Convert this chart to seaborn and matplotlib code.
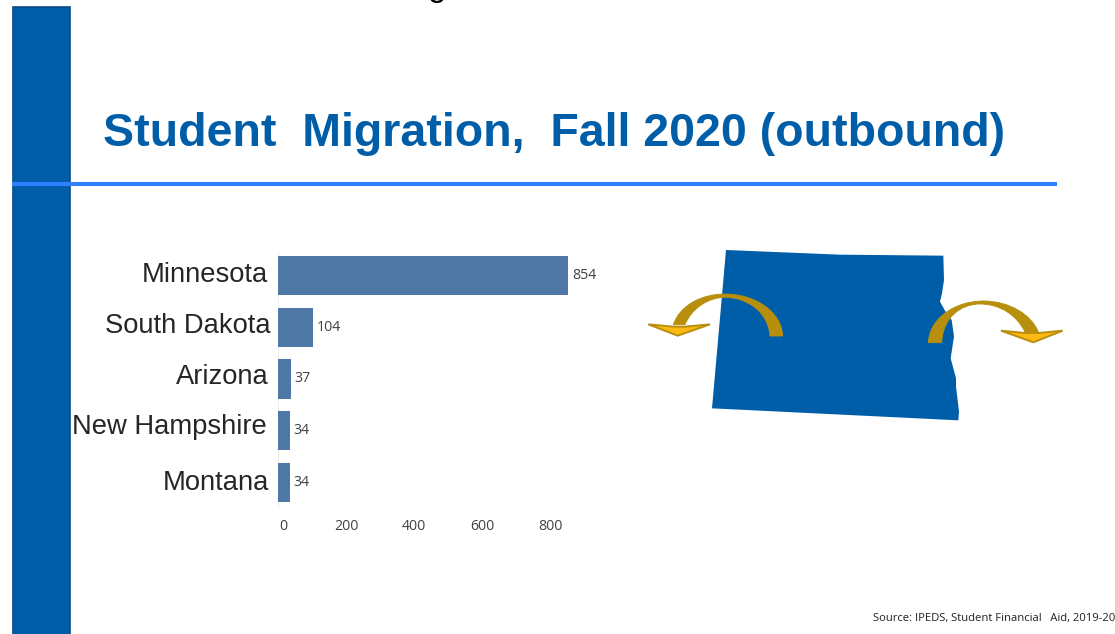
import pandas as pd
import matplotlib
matplotlib.use('Agg')
import matplotlib.pyplot as plt
import matplotlib.transforms as mtrans
from matplotlib.patches import PathPatch, Polygon, Rectangle
from matplotlib.path import Path
import seaborn as sns

# Chart values
states = ['Minnesota', 'South Dakota', 'Arizona', 'New Hampshire', 'Montana']
students = [854, 104, 37, 34, 34]
x_ticks = [0, 200, 400, 600, 800]

title = 'Student  Migration,  Fall 2020 (outbound)'
source = 'Source: IPEDS, Student Financial   Aid, 2019-20'

W, H = 1115, 634
BLUE = '#005DA8'
GOLD_DARK = '#B88F0C'
GOLD = '#FDB913'

sns.set_theme(style='white')
plt.rcParams['font.family'] = ['Liberation Sans', 'DejaVu Sans']

fig = plt.figure(figsize=(W / 100, H / 100), dpi=100, facecolor='white')

# Background layer in pixel coordinates, for the slide furniture
bg = fig.add_axes([0, 0, 1, 1])
bg.set_xlim(0, W)
bg.set_ylim(H, 0)
bg.axis('off')

bg.add_patch(Rectangle((12.5, 6.5), 57.5, 640, facecolor=BLUE, edgecolor='#0B4C86', lw=1.2))
bg.plot([12, 1057], [183.5, 183.5], color='#2F82FF', lw=2.9, solid_capstyle='butt')
bg.text(103, 146, title, color=BLUE, fontsize=33.45, fontweight='bold', va='baseline')
bg.text(428, -4, 'g', color='black', fontsize=24, va='baseline')
bg.text(1115, 619, source, color='#222222', fontsize=8.15, family='Open Sans', ha='right', va='center')


def zoomed(points):
    return [(640 + x / 3, 240 + y / 3) for x, y in points]


state_outline = [(258, 30), (600, 44), (910, 47), (912, 120), (906, 160), (900, 185), (915, 212),
                 (935, 240), (942, 290), (932, 355), (948, 415), (948, 440), (957, 515),
                 (955, 541), (216, 505)]
bg.add_patch(Polygon(zoomed(state_outline), closed=True, facecolor=BLUE, edgecolor='none'))


def curved_arrow(outer, inner, head):
    codes = [Path.MOVETO, Path.CURVE4, Path.CURVE4, Path.CURVE4, Path.CURVE4, Path.CURVE4, Path.CURVE4,
             Path.LINETO, Path.CURVE4, Path.CURVE4, Path.CURVE4, Path.CURVE4, Path.CURVE4, Path.CURVE4,
             Path.CLOSEPOLY]
    verts = zoomed(outer + inner + [outer[0]])
    bg.add_patch(PathPatch(Path(verts, codes), facecolor=GOLD_DARK, edgecolor=GOLD_DARK, lw=0.6))
    bg.add_patch(Polygon(zoomed(head), closed=True, facecolor=GOLD, edgecolor=GOLD_DARK, lw=1.4))


curved_arrow(
    [(428, 288), (425, 215), (345, 162), (255, 162), (185, 162), (120, 195), (100, 254)],
    [(135, 254), (155, 205), (205, 172), (255, 172), (320, 172), (385, 215), (390, 288)],
    [(25, 253), (100, 260), (135, 260), (210, 253), (113, 287)],
)
curved_arrow(
    [(865, 308), (868, 235), (945, 183), (1030, 183), (1110, 183), (1175, 225), (1195, 276)],
    [(1155, 276), (1130, 225), (1080, 192), (1020, 192), (960, 192), (908, 235), (905, 308)],
    [(1083, 272), (1155, 279), (1195, 279), (1268, 272), (1180, 307)],
)

# Bar chart
data = pd.DataFrame({'State': states, 'Students': students})
ax = fig.add_axes([278 / W, 1 - 508 / H, 322 / W, 258 / H])
ax.patch.set_alpha(0)
sns.barplot(data=data, x='Students', y='State', color='#4F78A6', saturation=1, width=0.76,
            linewidth=0, ax=ax)
ax.set_xlim(0, 322 / 0.34)
ax.set_xlabel('')
ax.set_ylabel('')
ax.set_xticks(x_ticks)
sns.despine(ax=ax, left=False, bottom=True)
ax.spines['left'].set_color('#E6E6E6')
ax.spines['left'].set_linewidth(0.6)
ax.spines['left'].set_linestyle(':')
ax.spines['left'].set_zorder(0)
ax.tick_params(axis='x', length=0, pad=8, labelsize=10.2, labelcolor='#404040')
ax.tick_params(axis='y', length=0, pad=7, labelsize=19.7, labelcolor='#262626')
for lab in ax.get_xticklabels():
    lab.set_family('Open Sans')

ax.bar_label(ax.containers[0], labels=[str(v) for v in students], padding=2.5,
             fontsize=10.2, color='#404040', family='Open Sans')

# The slide's labels sit a little off the bars, nudge them in pixels
nudges = [(0, 4), (2, 4), (0, 5), (-2, 7), (1, 2)]
for lab, (dx, dy) in zip(ax.get_yticklabels(), nudges):
    lab.set_transform(lab.get_transform() + mtrans.Affine2D().translate(dx, dy))
zero = ax.get_xticklabels()[0]
zero.set_transform(zero.get_transform() + mtrans.Affine2D().translate(5, 0))

fig.savefig('out.png', dpi=100)
